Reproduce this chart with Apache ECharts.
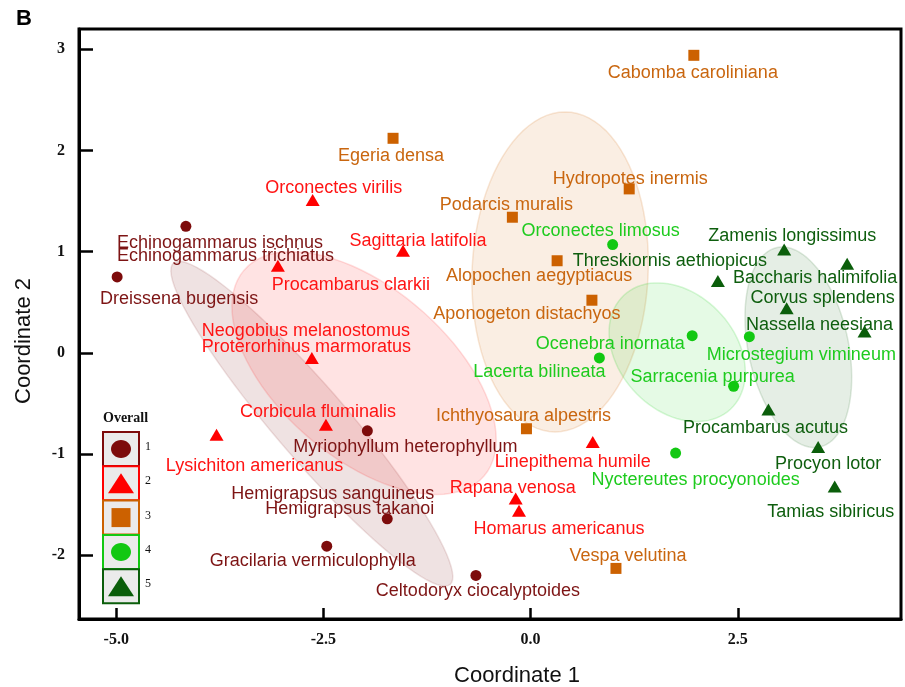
<!DOCTYPE html>
<html>
<head>
<meta charset="utf-8">
<script src="https://cdn.jsdelivr.net/npm/echarts@6/dist/echarts.min.js"></script>
<style>
html, body { margin: 0; padding: 0; background: #fff; }
#main { width: 905px; height: 687px; }
</style>
</head>
<body>
<div id="main"></div>
<script>
// tick labels
var xTicks = [-5, -2.5, 0, 2.5];
var yTicks = [-2, -1, 0, 1, 2, 3];
var groupNames = ['1', '2', '3', '4', '5'];

// group 1
var g1Names = ['Echinogammarus ischnus\nEchinogammarus trichiatus', 'Dreissena bugensis', 'Myriophyllum heterophyllum',
    'Hemigrapsus sanguineus\nHemigrapsus takanoi', 'Gracilaria vermiculophylla', 'Celtodoryx ciocalyptoides'];
var g1X = [-4.16, -4.99, -1.97, -1.73, -2.46, -0.66];
var g1Y = [1.25, 0.75, -0.77, -1.64, -1.91, -2.20];

// group 2
var g2Names = ['Orconectes virilis', 'Sagittaria latifolia', 'Procambarus clarkii',
    'Neogobius melanostomus\nProterorhinus marmoratus', 'Corbicula fluminalis', 'Lysichiton americanus',
    'Linepithema humile', 'Rapana venosa', 'Homarus americanus'];
var g2X = [-2.63, -1.54, -3.05, -2.64, -2.47, -3.79, 0.75, -0.18, -0.14];
var g2Y = [1.51, 1.01, 0.86, -0.05, -0.71, -0.81, -0.88, -1.44, -1.56];

// group 3
var g3Names = ['Cabomba caroliniana', 'Egeria densa', 'Hydropotes inermis', 'Podarcis muralis',
    'Alopochen aegyptiacus', 'Aponogeton distachyos', 'Ichthyosaura alpestris', 'Vespa velutina'];
var g3X = [1.97, -1.66, 1.19, -0.22, 0.32, 0.74, -0.05, 1.03];
var g3Y = [2.94, 2.12, 1.62, 1.34, 0.91, 0.52, -0.75, -2.13];

// group 4
var g4Names = ['Orconectes limosus', 'Ocenebra inornata', 'Microstegium vimineum', 'Lacerta bilineata',
    'Sarracenia purpurea', 'Nyctereutes procyonoides'];
var g4X = [0.99, 1.95, 2.64, 0.83, 2.45, 1.75];
var g4Y = [1.07, 0.17, 0.16, -0.05, -0.33, -0.99];

// group 5
var g5Names = ['Zamenis longissimus', 'Baccharis halimifolia', 'Threskiornis aethiopicus', 'Corvus splendens',
    'Nassella neesiana', 'Procambarus acutus', 'Procyon lotor', 'Tamias sibiricus'];
var g5X = [3.06, 3.82, 2.26, 3.09, 4.03, 2.87, 3.47, 3.67];
var g5Y = [1.02, 0.88, 0.71, 0.44, 0.21, -0.56, -0.93, -1.32];

// ellipses (centre and two half axes, data units)
var ellCenter = [[-2.64, -0.70], [-2.01, -0.20], [0.356, 0.80], [1.769, 0.006], [3.231, 0.055]];
var ellU = [[1.669, -1.588], [1.448, -1.017], [0.06, 1.581], [0.643, -0.563], [0.256, -0.986]];
var ellV = [[-0.330, -0.232], [-0.668, -0.637], [1.063, 0], [-0.512, -0.391], [0.591, 0.103]];

var markColors = ['#7d0b0b', '#ff0000', '#cc6100', '#12c812', '#0b5e0b'];
var textColors = ['#7d1414', '#ff1414', '#c9660f', '#1ecb1e', '#0e5e0e'];
var ellFill = ['rgba(125,20,20,0.12)', 'rgba(255,40,40,0.13)', 'rgba(214,120,40,0.13)', 'rgba(40,210,40,0.12)', 'rgba(20,100,20,0.11)'];
var ellStroke = ['rgba(125,20,20,0.12)', 'rgba(255,40,40,0.15)', 'rgba(214,120,40,0.18)', 'rgba(40,210,40,0.18)', 'rgba(20,100,20,0.14)'];
var symbols = ['circle', 'triangle', 'rect', 'circle', 'triangle'];
var symbolSizes = [11, [14, 12], 11, 11, [14, 12]];

// label placement: [dx, dy, align, lineHeight]
var labelShift = {
    'Echinogammarus ischnus\nEchinogammarus trichiatus': [-69, 20, 'left', 13],
    'Dreissena bugensis': [62, 19],
    'Myriophyllum heterophyllum': [38, 13],
    'Hemigrapsus sanguineus\nHemigrapsus takanoi': [47, -20, 'right', 15],
    'Gracilaria vermiculophylla': [-14, 12],
    'Celtodoryx ciocalyptoides': [2, 13],
    'Orconectes virilis': [21, -15],
    'Sagittaria latifolia': [15, -13],
    'Procambarus clarkii': [73, 16],
    'Neogobius melanostomus\nProterorhinus marmoratus': [-110, -22, 'left', 16],
    'Corbicula fluminalis': [-8, -16],
    'Lysichiton americanus': [38, 28],
    'Linepithema humile': [-20, 17],
    'Rapana venosa': [-3, -14],
    'Homarus americanus': [40, 15],
    'Cabomba caroliniana': [-1, 15],
    'Egeria densa': [-2, 15],
    'Hydropotes inermis': [1, -13],
    'Podarcis muralis': [-6, -15],
    'Alopochen aegyptiacus': [-18, 12],
    'Aponogeton distachyos': [-65, 11],
    'Ichthyosaura alpestris': [-3, -16],
    'Vespa velutina': [12, -15],
    'Orconectes limosus': [-12, -17],
    'Ocenebra inornata': [-82, 5],
    'Microstegium vimineum': [52, 15],
    'Lacerta bilineata': [-60, 11],
    'Sarracenia purpurea': [-21, -12],
    'Nyctereutes procyonoides': [20, 24],
    'Zamenis longissimus': [8, -17],
    'Baccharis halimifolia': [-32, 11],
    'Threskiornis aethiopicus': [-48, -23],
    'Corvus splendens': [36, -13],
    'Nassella neesiana': [-45, -10],
    'Procambarus acutus': [-3, 16],
    'Procyon lotor': [10, 14],
    'Tamias sibiricus': [-4, 23]
};
var labelNudgeY = 3;

var groups = [[g1Names, g1X, g1Y], [g2Names, g2X, g2Y], [g3Names, g3X, g3Y], [g4Names, g4X, g4Y], [g5Names, g5X, g5Y]];

var chart = echarts.init(document.getElementById('main'));

var series = [{
    type: 'custom',
    name: 'ellipses',
    z: 1,
    silent: true,
    data: ellCenter,
    encode: {x: 0, y: 1},
    renderItem: function (params, api) {
        var i = params.dataIndex;
        var c = ellCenter[i], u = ellU[i], v = ellV[i];
        var pts = [];
        for (var k = 0; k < 90; k++) {
            var t = k / 90 * Math.PI * 2;
            pts.push(api.coord([c[0] + u[0] * Math.cos(t) + v[0] * Math.sin(t),
                c[1] + u[1] * Math.cos(t) + v[1] * Math.sin(t)]));
        }
        return {
            type: 'polygon',
            shape: {points: pts},
            style: {fill: ellFill[i], stroke: ellStroke[i], lineWidth: 1.5}
        };
    }
}];

groups.forEach(function (g, gi) {
    var data = g[0].map(function (n, i) {
        var s = labelShift[n] || [0, 14];
        var lab = {offset: [s[0], s[1] + labelNudgeY]};
        if (s[2]) lab.align = s[2];
        if (s[3]) lab.lineHeight = s[3];
        return {name: n, value: [g[1][i], g[2][i]], label: lab};
    });
    series.push({
        type: 'scatter',
        name: groupNames[gi],
        z: 3,
        symbol: symbols[gi],
        symbolSize: symbolSizes[gi],
        itemStyle: {color: markColors[gi], opacity: 1},
        label: {
            show: true,
            position: 'inside',
            formatter: '{b}',
            fontFamily: 'Liberation Sans, Arial',
            fontSize: 18,
            color: textColors[gi],
            align: 'center',
            verticalAlign: 'middle'
        },
        data: data
    });
});

// legend box at the lower left
var legendGraphics = [
    {type: 'text', left: 16, top: 8, style: {text: 'B', font: 'bold 22px Liberation Sans', fill: '#000'}},
    {type: 'text', left: 103, top: 411, style: {text: 'Overall', font: 'bold 14px Liberation Serif', fill: '#111'}}
];
groupNames.forEach(function (n, i) {
    var y0 = 432 + i * 34.3;
    var cx = 121, cy = y0 + 17;
    legendGraphics.push({
        type: 'rect', shape: {x: 103, y: y0, width: 36, height: 34},
        style: {fill: '#ebebeb', stroke: markColors[i], lineWidth: 2}
    });
    var sym;
    if (symbols[i] === 'circle') {
        sym = {type: 'ellipse', shape: {cx: cx, cy: cy, rx: 10, ry: 9}};
    } else if (symbols[i] === 'rect') {
        sym = {type: 'rect', shape: {x: cx - 9.5, y: cy - 9.5, width: 19, height: 19}};
    } else {
        sym = {type: 'polygon', shape: {points: [[cx, cy - 10], [cx + 13, cy + 10], [cx - 13, cy + 10]]}};
    }
    sym.style = {fill: markColors[i]};
    legendGraphics.push(sym);
    legendGraphics.push({
        type: 'text', left: 145, top: cy - 8,
        style: {text: n, font: '12px Liberation Serif', fill: '#111'}
    });
});

chart.setOption({
    animation: false,
    backgroundColor: '#fff',
    grid: {left: 79, right: 4, top: 29, bottom: 68, outerBoundsMode: 'none', containLabel: false,
        show: true, borderColor: '#000', borderWidth: 3, backgroundColor: 'transparent'},
    xAxis: {
        type: 'value', min: -5.45, max: 4.47,
        name: 'Coordinate 1', nameLocation: 'middle', nameGap: 46,
        nameTextStyle: {fontFamily: 'Liberation Sans', fontSize: 22, color: '#111', padding: [0, 0, 0, 54]},
        axisLine: {show: true, onZero: false, lineStyle: {color: '#000', width: 3}},
        axisTick: {show: true, inside: true, length: 11, customValues: xTicks, lineStyle: {color: '#000', width: 2.5}},
        axisLabel: {customValues: xTicks, margin: 13, fontFamily: 'Liberation Serif', fontWeight: 'bold', fontSize: 16, color: '#111',
            formatter: function (v) { return v.toFixed(1); }},
        splitLine: {show: false}
    },
    yAxis: {
        type: 'value', min: -2.63, max: 3.2,
        name: 'Coordinate 2', nameLocation: 'middle', nameGap: 44, nameRotate: 90,
        nameTextStyle: {fontFamily: 'Liberation Sans', fontSize: 22, color: '#111', padding: [0, 34, 0, 0]},
        axisLine: {show: true, onZero: false, lineStyle: {color: '#000', width: 3}},
        axisTick: {show: true, inside: true, length: 14, customValues: yTicks, lineStyle: {color: '#000', width: 2.5}},
        axisLabel: {customValues: yTicks, margin: 14, fontFamily: 'Liberation Serif', fontWeight: 'bold', fontSize: 16, color: '#111'},
        splitLine: {show: false}
    },
    graphic: legendGraphics,
    series: series
});
</script>
</body>
</html>
